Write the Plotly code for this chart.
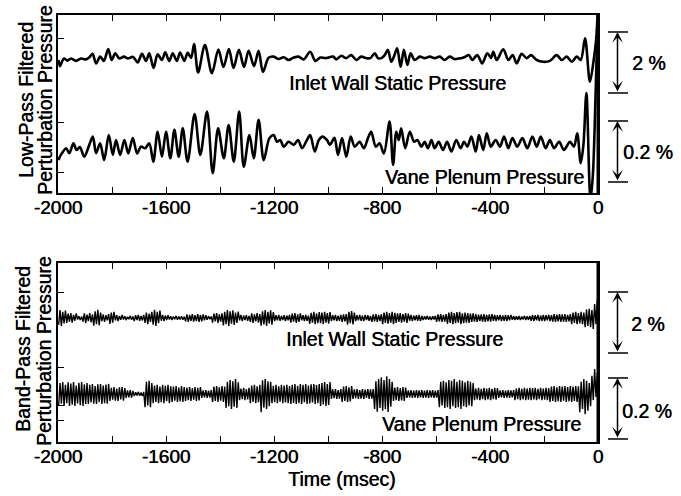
import plotly.graph_objects as go

# ---------------- data ----------------
# Low-pass filtered traces: time (ms) and perturbation pressure (%)
lp_inlet_t = [-1998, -1993, -1978, -1965, -1952, -1933, -1915, -1896, -1885, -1872,
              -1859, -1844, -1830, -1814, -1801, -1788, -1773, -1756, -1741, -1722,
              -1705, -1689, -1674, -1662, -1646, -1631, -1615, -1603, -1588, -1575,
              -1560, -1548, -1532, -1520, -1507, -1496, -1481, -1456, -1430, -1406,
              -1387, -1367, -1350, -1330, -1311, -1294, -1274, -1257, -1241, -1220,
              -1201, -1183, -1164, -1146, -1127, -1109, -1090, -1066, -1047, -1029,
              -1010, -981, -969, -951, -933, -914, -895, -877, -858, -843,
              -827, -815, -802, -790, -778, -766, -756, -744, -731, -719,
              -706, -694, -679, -660, -642, -623, -605, -586, -568, -549,
              -531, -507, -493, -478, -466, -447, -429, -410, -396, -388,
              -375, -351, -332, -316, -301, -283, -264, -248, -227, -203,
              -178, -153, -134, -116, -97, -79, -64, -48, -30, -17, -7, 0]
lp_inlet_v = [0, -0.20, 0.05, -0.02, 0.05, -0.03, 0.05, 0.02, 0.08, 0.20,
              -0.11, 0.11, -0.03, 0.36, 0, 0.22, 0.05, 0.11, 0.05, 0.10,
              -0.08, 0.20, -0.03, 0.22, -0.26, 0.19, 0, 0.25, -0.03, 0.22,
              -0.03, 0.24, -0.03, 0.24, 0.07, 0.52, -0.41, 0.49, -0.43, 0.34,
              -0.23, 0.36, -0.26, 0.33, -0.23, 0.30, -0.20, 0.30, -0.39, 0.07,
              0.11, 0.03, 0.09, 0, 0.08, 0.11, 0.02, 0.27, -0.03, 0.08,
              0.06, 0.11, 0.02, 0.14, 0.06, 0.16, 0, 0.11, 0.06, 0.06,
              0.22, 0.06, 0.06, 0.16, 0.33, -0.06, 0.11, 0.38, -0.22, 0.33,
              -0.16, 0.22, 0, 0.11, 0.06, 0.11, 0.06, 0.11, 0, 0.11,
              0.03, 0.06, 0.10, 0.16, 0, 0.16, -0.11, 0.22, 0.07, 0.27,
              0, 0.35, 0, 0.16, -0.11, 0.20, 0.06, 0.16, 0, -0.06,
              -0.03, 0.16, 0, 0.11, -0.06, 0.11, 0, 0.71, -0.71, -0.07, 0.66, 1.8]

lp_vane_t = [-1998, -1993, -1981, -1970, -1958, -1943, -1931, -1919, -1903, -1884,
             -1871, -1859, -1844, -1829, -1812, -1797, -1785, -1770, -1754, -1740,
             -1723, -1707, -1693, -1677, -1662, -1647, -1631, -1615, -1600, -1584,
             -1569, -1553, -1538, -1520, -1494, -1473, -1448, -1427, -1407, -1386,
             -1368, -1349, -1329, -1312, -1291, -1275, -1257, -1238, -1217, -1201,
             -1189, -1177, -1164, -1146, -1127, -1111, -1096, -1078, -1066, -1049,
             -1034, -1020, -1004, -993, -976, -963, -948, -932, -916, -901,
             -883, -867, -852, -840, -823, -809, -793, -772, -759, -747,
             -738, -729, -714, -697, -681, -669, -654, -642, -630, -617,
             -605, -590, -574, -559, -543, -525, -509, -496, -484, -469,
             -453, -441, -425, -412, -397, -379, -363, -348, -332, -317,
             -299, -280, -262, -243, -227, -212, -194, -178, -163, -144,
             -126, -104, -89, -77, -64, -54, -43, -28, -19, -9, 0]
lp_vane_v = [-0.043, -0.032, -0.015, -0.004, -0.020, 0.012, -0.010, 0, -0.032, 0.007,
             0.034, -0.020, 0.012, -0.043, 0.039, -0.026, 0.023, -0.026, 0.023, -0.021,
             0.029, -0.021, 0.001, -0.004, 0.012, -0.048, 0.050, -0.032, 0.050, -0.037,
             0.056, -0.032, 0.061, -0.048, 0.108, -0.026, 0.116, -0.086, 0.061, -0.037,
             0.072, -0.048, 0.116, -0.065, 0.039, -0.037, 0.089, -0.043, 0.029, 0.039,
             0.017, 0.023, 0.001, 0.017, 0.007, 0.023, -0.004, 0.023, 0.039, -0.015,
             0.023, 0.034, 0.023, 0.007, 0.030, -0.026, 0.029, -0.032, 0.034, 0.001,
             0.017, -0.004, 0.029, 0.050, 0.001, 0.012, -0.021, 0.083, -0.059, 0.050,
             0.023, 0.061, -0.004, 0.050, 0.017, 0.023, 0.001, 0.017, -0.004, 0.023,
             -0.004, 0.017, -0.010, 0.017, -0.015, 0.023, -0.004, 0.017, 0.001, 0.034,
             -0.015, 0.039, -0.010, 0.045, 0.001, 0.023, 0.001, 0.034, -0.004, 0.029,
             0.001, 0.029, -0.004, 0.034, 0.001, 0.034, -0.004, 0.023, -0.004, 0.017,
             -0.010, 0.017, 0.001, 0.045, -0.053, 0.007, 0.177, -0.174, -0.092, 0.170, 0.449]

# Band-pass filtered traces: max / min of the signal in consecutive 10 ms bins (%)
bp_bin_ms = 10
bp_inlet_hi = [.26, .20, .24, .14, .16, .10, .15, .06, .05, .15, .11, .16, .12, .22, .27, .18,
               .12, .09, .13, .18, .20, .09, .07, .10, .06, .04, .07, .05, .09, .10, .07, .10,
               .18, .14, .20, .27, .20, .24, .10, .08, .09, .06, .05, .07, .05, .06, .04,
               .12, .10, .13, .09, .13, .10, .12, .09, .06, .05, .14, .16, .12, .15,
               .20, .26, .22, .25, .18, .21, .10, .08, .09, .07, .15, .12, .16, .13,
               .22, .26, .20, .25, .19, .09, .10, .07, .09, .08, .10, .14, .16, .12, .15,
               .09, .10, .08, .17, .20, .15, .19, .18, .20, .16, .19, .09, .10, .08, .10,
               .12, .13, .20, .23, .18, .09, .10, .08, .10, .09, .07, .12, .13, .10, .13,
               .18, .20, .16, .20, .17, .15, .16, .13, .16, .14, .10, .08, .09, .10, .07,
               .06, .07, .05, .06, .07, .12, .13, .10, .13, .18, .20, .16, .19, .20, .15, .18,
               .16, .14, .15, .13, .11, .12, .13, .10, .12, .13, .10, .09, .10, .08, .10, .09, .10,
               .07, .06, .07, .05, .07, .06, .07, .10, .09, .10, .08, .10, .09, .10, .09,
               .13, .11, .13, .12, .13, .10, .13, .18, .20, .16, .20, .18, .28, .30, .26, .46, .60]
bp_inlet_lo = [-.22, -.26, -.18, -.16, -.12, -.15, -.09, -.05, -.07, -.12, -.16, -.10, -.14,
               -.25, -.20, -.24, -.10, -.13, -.08, -.19, -.15, -.08, -.10, -.06,
               -.05, -.07, -.04, -.06, -.10, -.07, -.09, -.08, -.16, -.20, -.13,
               -.22, -.26, -.17, -.09, -.10, -.07, -.05, -.07, -.04, -.06, -.05, -.06,
               -.11, -.13, -.09, -.12, -.10, -.13, -.11, -.08, -.06, -.04,
               -.15, -.11, -.16, -.12, -.24, -.20, -.26, -.19, -.23, -.16,
               -.08, -.10, -.07, -.09, -.13, -.16, -.11, -.15, -.25, -.21, -.26, -.18, -.22,
               -.10, -.08, -.09, -.07, -.10, -.08, -.15, -.12, -.16, -.13, -.08, -.10, -.09,
               -.19, -.15, -.20, -.17, -.17, -.20, -.15, -.19, -.10, -.08, -.10, -.09,
               -.13, -.11, -.22, -.17, -.21, -.10, -.08, -.09, -.10, -.07, -.09,
               -.13, -.11, -.13, -.10, -.20, -.16, -.19, -.15, -.20, -.16, -.13, -.15, -.12, -.16,
               -.09, -.10, -.08, -.09, -.10, -.07, -.05, -.06, -.07, -.05, -.13, -.11, -.13, -.12,
               -.19, -.16, -.20, -.17, -.15, -.20, -.17, -.15, -.16, -.13,
               -.12, -.13, -.10, -.12, -.13, -.11, -.12, -.09, -.10, -.08, -.10, -.09, -.10, -.08,
               -.06, -.07, -.06, -.07, -.05, -.07, -.06, -.09, -.10, -.08, -.10, -.09, -.10, -.08, -.10,
               -.12, -.13, -.11, -.13, -.12, -.13, -.11, -.20, -.16, -.20, -.18, -.20,
               -.30, -.26, -.30, -.36, -.20]
bp_vane_hi = [.036, .039, .030, .038, .034, .039, .028, .037, .039, .032, .036,
              .030, .033, .026, .032, .033, .028, .031, .033, .020, .023, .018, .022, .023, .019,
              .012, .013, .010, .006, .007, .005, .007, .040, .043, .036,
              .028, .030, .024, .030, .027, .030, .025, .024, .026, .021, .026, .023,
              .021, .023, .019, .023, .020, .023, .012, .013, .011, .013, .024, .026, .022, .026, .024,
              .040, .046, .042, .049, .038, .018, .020, .016, .020, .028, .030, .025, .030,
              .045, .049, .042, .040, .027, .030, .025, .030, .028, .030, .026,
              .030, .033, .027, .033, .030, .033, .028, .032, .033, .029, .033,
              .036, .039, .033, .039, .015, .016, .013, .016, .024, .026, .022, .026,
              .015, .016, .013, .016, .014, .016, .015, .016,
              .042, .049, .055, .046, .058, .049, .040, .021, .023, .019, .023, .021,
              .012, .013, .011, .013, .012, .013, .011, .013, .012, .013, .011, .013,
              .040, .043, .038, .046, .043, .049, .040, .046, .043, .038, .043, .040, .036,
              .018, .020, .017, .020, .018, .020, .017, .020, .019, .012, .013, .011, .013, .012, .013,
              .018, .020, .017, .020, .018, .020, .019, .020, .017, .020, .018, .020, .019,
              .024, .026, .022, .026, .024, .026, .023, .026, .024, .026, .025,
              .040, .049, .043, .036, .060, .082, .070]
bp_vane_lo = [-.038, -.032, -.039, -.030, -.039, -.035, -.039, -.031, -.037, -.039, -.033,
              -.033, -.028, -.032, -.033, -.027, -.033, -.030, -.032,
              -.023, -.019, -.022, -.023, -.018, -.022, -.013, -.011, -.012, -.007, -.005, -.006, -.007,
              -.043, -.038, -.043, -.030, -.026, -.030, -.027, -.030, -.024, -.030,
              -.026, -.022, -.026, -.024, -.026, -.023, -.020, -.023, -.019, -.023, -.021,
              -.013, -.011, -.013, -.012, -.026, -.023, -.026, -.022, -.026,
              -.046, -.040, -.049, -.042, -.046, -.020, -.017, -.020, -.018, -.030, -.026, -.030, -.027,
              -.060, -.045, -.049, -.040, -.030, -.027, -.030, -.025, -.030, -.028, -.030,
              -.033, -.029, -.033, -.030, -.033, -.027, -.033, -.031, -.028, -.033, -.030,
              -.039, -.034, -.039, -.036, -.016, -.014, -.016, -.015, -.026, -.023, -.026, -.024,
              -.016, -.014, -.016, -.015, -.016, -.013, -.016, -.015,
              -.049, -.058, -.046, -.055, -.049, -.059, -.042, -.023, -.020, -.023, -.021, -.023,
              -.013, -.011, -.013, -.012, -.013, -.011, -.013, -.012, -.013, -.011, -.013, -.012,
              -.043, -.038, -.046, -.043, -.049, -.040, -.046, -.043, -.049, -.040, -.043, -.038, -.040,
              -.020, -.018, -.020, -.017, -.020, -.018, -.020, -.017, -.019,
              -.013, -.011, -.013, -.012, -.013, -.011, -.020, -.017, -.020, -.018, -.020, -.019,
              -.020, -.018, -.020, -.017, -.020, -.019, -.020,
              -.026, -.023, -.026, -.024, -.026, -.022, -.026, -.024, -.026, -.023, -.026,
              -.060, -.049, -.066, -.055, -.040, -.020, -.010]

x_tick_vals = [-2000, -1600, -1200, -800, -400, 0]
x_tick_text = ["-2000", "-1600", "-1200", "-800", "-400", "0"]

for a, b in [(lp_inlet_t, lp_inlet_v), (lp_vane_t, lp_vane_v),
             (bp_inlet_hi, bp_inlet_lo), (bp_vane_hi, bp_vane_lo), (bp_inlet_hi, bp_vane_hi)]:
    assert len(a) == len(b), (len(a), len(b))

# ---------------- presentation ----------------
# display units: inlet drawn 1:1 in %, vane magnified 10x (0.2 % bar = 2 % bar)
K_INLET, K_VANE = 1.0, 10.0
TOP_INLET_OFF, TOP_VANE_OFF = 0.0, -2.852
BOT_INLET_OFF, BOT_VANE_OFF = 0.0, -2.492
TOP_RANGE = [-4.361, 1.475]
BOT_RANGE = [-4.066, 1.803]

W, H = 681, 496
FONT = "Liberation Sans, Arial, sans-serif"
FS = 19.5
FS_TICK = 19
SHADOW = "0.5px 0px 0px black"


def px(x):
    return x / W


def py(y):
    return 1 - y / H


def shift(vals, off, k):
    return [off + k * v for v in vals]


def minmax_path(hi, lo, off, k):
    xs, ys = [], []
    n = len(hi)
    for i in range(n):
        tc = -2000 + bp_bin_ms * (i + 0.5)
        xs += [tc - bp_bin_ms / 4, tc + bp_bin_ms / 4]
        ys += [off + k * lo[i], off + k * hi[i]]
    return xs, ys


fig = go.Figure()
lp_line = dict(color="black", width=2.6, shape="spline", smoothing=0.9)
bp_line = dict(color="black", width=1.4)

fig.add_trace(go.Scatter(x=lp_inlet_t, y=shift(lp_inlet_v, TOP_INLET_OFF, K_INLET),
                         mode="lines", line=lp_line, xaxis="x", yaxis="y"))
fig.add_trace(go.Scatter(x=lp_vane_t, y=shift(lp_vane_v, TOP_VANE_OFF, K_VANE),
                         mode="lines", line=lp_line, xaxis="x", yaxis="y"))
bx, by = minmax_path(bp_inlet_hi, bp_inlet_lo, BOT_INLET_OFF, K_INLET)
fig.add_trace(go.Scatter(x=bx, y=by, mode="lines", line=bp_line, xaxis="x2", yaxis="y2"))
bx, by = minmax_path(bp_vane_hi, bp_vane_lo, BOT_VANE_OFF, K_VANE)
fig.add_trace(go.Scatter(x=bx, y=by, mode="lines", line=bp_line, xaxis="x2", yaxis="y2"))

X_DOM = [px(58), px(598)]

xcommon = dict(domain=X_DOM, range=[-2000, 0], tickvals=x_tick_vals, ticktext=x_tick_text,
               ticks="inside", ticklen=6, tickwidth=1.3, tickcolor="black",
               minor=dict(dtick=200, ticks="inside", ticklen=6, tickwidth=1.3, tickcolor="black"),
               showline=True, linewidth=1.5, linecolor="black", mirror="ticks",
               showgrid=False, zeroline=False, automargin=False, ticklabelstandoff=-4,
               tickfont=dict(family=FONT, size=FS_TICK, color="black", shadow=SHADOW))
ycommon = dict(showticklabels=False, ticks="inside", ticklen=6, tickwidth=1.3, tickcolor="black",
               showline=True, linewidth=1.5, linecolor="black", mirror=True,
               showgrid=False, zeroline=False, automargin=False)

fig.update_layout(
    width=W, height=H, margin=dict(l=0, r=0, t=0, b=0, pad=0, autoexpand=False),
    paper_bgcolor="white", plot_bgcolor="white", showlegend=False,
    xaxis=dict(anchor="y", **xcommon),
    yaxis=dict(anchor="x", domain=[py(193), py(15)], range=TOP_RANGE,
               tickvals=[0.689, -2.033, -3.705], **ycommon),
    xaxis2=dict(anchor="y2", **xcommon),
    yaxis2=dict(anchor="x2", domain=[py(442), py(263)], range=BOT_RANGE,
                tickvals=[0.852, -1.639, -2.885, -3.377], **ycommon),
)

shapes = []
annots = []
tf = dict(family=FONT, size=FS, color="black", shadow=SHADOW)

# thick right frame edges
for yr in ["y domain", "y2 domain"]:
    shapes.append(dict(type="line", xref="paper", yref=yr, x0=px(598), x1=px(598), y0=0, y1=1,
                       line=dict(color="black", width=3)))

# scale bars (2 % inlet, 0.2 % vane -> both 2 display units)
bars = [("y", 0.918, "2 %", 630, 63), ("y", -2.0, "0.2 %", 621, 152),
        ("y2", 0.852, "2 %", 629, 324), ("y2", -1.967, "0.2 %", 620, 411)]
for yref, ytop, label, tx, ty in bars:
    ybot = ytop - 2.0
    for yy in (ytop, ybot):
        shapes.append(dict(type="line", xref="paper", yref=yref, x0=px(608), x1=px(628),
                           y0=yy, y1=yy, line=dict(color="black", width=1.5)))
    annots.append(dict(xref="paper", yref=yref, x=px(617.5), y=ytop, axref="pixel", ayref=yref,
                       ax=0, ay=ybot, showarrow=True, arrowside="end+start",
                       arrowhead=3, startarrowhead=3, arrowsize=1.2, startarrowsize=1.2,
                       arrowwidth=1.5, arrowcolor="black", text=""))
    annots.append(dict(xref="paper", yref="paper", x=px(tx), y=py(ty), xanchor="left",
                       yanchor="middle", text=label, showarrow=False, font=tf))

# trace labels
for (x, y, t) in [(397, 83, "Inlet Wall Static Pressure"), (484, 177, "Vane Plenum Pressure"),
                  (394, 339, "Inlet Wall Static Pressure"), (482, 424, "Vane Plenum Pressure")]:
    annots.append(dict(xref="paper", yref="paper", x=px(x), y=py(y), text=t, showarrow=False,
                       xanchor="center", yanchor="middle", font=tf))

# y-axis titles
for (x, y, t) in [(26, 100, "Low-Pass Filtered"), (45, 100, "Perturbation Pressure"),
                  (23, 349, "Band-Pass Filtered"), (44, 351, "Perturbation Pressure")]:
    annots.append(dict(xref="paper", yref="paper", x=px(x), y=py(y), text=t, showarrow=False,
                       textangle=-90, xanchor="center", yanchor="middle", font=tf))

annots.append(dict(xref="paper", yref="paper", x=px(342), y=py(479), text="Time (msec)",
                   showarrow=False, xanchor="center", yanchor="middle", font=tf))

fig.update_layout(shapes=shapes, annotations=annots)
fig.write_html("out.html")
